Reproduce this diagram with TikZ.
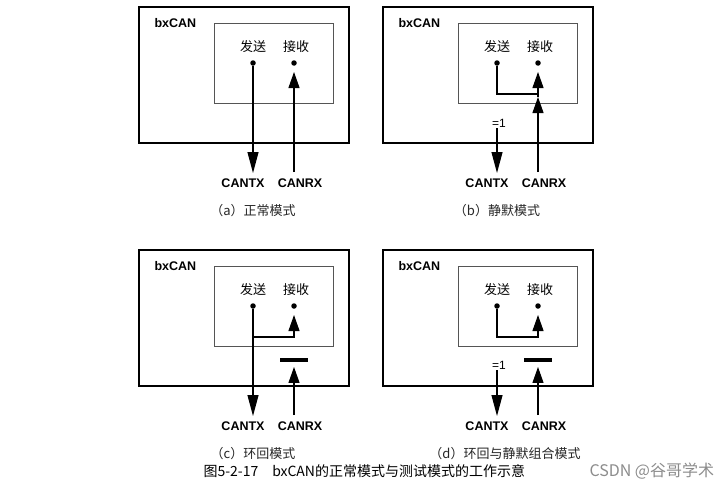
\documentclass[tikz,border=0pt]{standalone}
\usepackage{fontspec}
\setmainfont{Liberation Sans}
\newfontfamily\cjk{Noto Sans CJK SC}
\usetikzlibrary{arrows.meta}
\definecolor{boxgray}{RGB}{85,85,85}
\definecolor{markgray}{RGB}{140,140,140}

\begin{document}
\begin{tikzpicture}[
    x=1pt, y=-1pt,
    outer/.style={draw, line width=1.8pt},
    inner/.style={draw=boxgray, line width=0.9pt},
    dot/.style={circle, fill, inner sep=0pt, minimum size=5.5pt},
    sig/.style={line width=1.1pt},
    tx/.style={sig, -{Triangle[length=21pt, width=11pt]}},
    rx/.style={sig, -{Triangle[length=16pt, width=11pt]}},
    port/.style={font=\fontsize{12.5}{13}\selectfont\bfseries},
    eq/.style={font=\fontsize{12}{13}\selectfont, inner sep=1pt},
    cn/.style={font=\fontsize{13}{14}\cjk},
    subcap/.style={font=\fontsize{13}{14}\cjk, text=black!85},
    bar/.style={fill, inner sep=0pt, minimum width=28pt, minimum height=3.5pt}
]
\useasboundingbox (0,0) rectangle (727,498);

% Common frame of the four panels
\foreach \p/\sx/\sy/\cx/\mode in {a/139/7/114/正常模式, b/383/7/114/静默模式,
    c/139/250/114/环回模式, d/383/250/122/环回与静默组合模式} {
  \begin{scope}[shift={(\sx,\sy)}]
    \draw[outer] (0,0) rectangle (210,136);
    \draw[inner] (75,16) rectangle (194,96);
    \node[port, anchor=west] (\p name) at (12,16) {bxCAN};
    \node[cn] (\p sendtxt) at (114,40) {发送};
    \node[cn] (\p recvtxt) at (157,40) {接收};
    \node[dot] (\p send) at (114,56) {};
    \node[dot] (\p recv) at (155,56) {};
    \coordinate (\p txend) at (114,166);
    \coordinate (\p rxstart) at (155,165);
    \coordinate (\p rxtip) at (155,65);
    \node[port] (\p cantx) at (104,176) {CANTX};
    \node[port] (\p canrx) at (161,176) {CANRX};
    \node[subcap] (\p caption) at (\cx,204) {（\p）\mode};
  \end{scope}
}

% (a) normal mode
\draw[tx] (asend) -- (atxend);
\draw[rx] (arxstart) -- (arxtip);

% (b) silent mode
\begin{scope}[shift={(383,7)}]
  \coordinate (bloop) at (155,87);
  \coordinate (bmid) at (155,90);
  \node[eq] (bone) at (116,116) {=1};
  \draw[sig] (bsend) |- (bloop);
  \draw[tx] (bone.south -| btxend) -- (btxend);
  \draw[rx] (brxstart) -- (bmid);
  \draw[rx] (bmid) -- (brxtip);
\end{scope}

% (c) loop back mode
\begin{scope}[shift={(139,250)}]
  \coordinate (cloop) at (114,87);
  \node[bar] (cbar) at (155,110) {};
  \draw[tx] (csend) -- (ctxend);
  \draw[rx] (cloop) -| (crxtip);
  \draw[rx, shorten >=5pt] (crxstart) -- (cbar);
\end{scope}

% (d) loop back combined with silent mode
\begin{scope}[shift={(383,250)}]
  \coordinate (dloop) at (155,87);
  \node[eq] (done) at (116,115) {=1};
  \node[bar] (dbar) at (155,110) {};
  \draw[rx] (dsend) |- (dloop) -- (drxtip);
  \draw[tx] (done.south -| dtxend) -- (dtxend);
  \draw[rx, shorten >=5pt] (drxstart) -- (dbar);
\end{scope}

% Title and watermark
\node[anchor=west, font=\fontsize{14}{15}\cjk] (title) at (200,471)
  {图5-2-17\quad bxCAN的正常模式与测试模式的工作示意};
\node[anchor=west, font=\fontsize{16}{17}\cjk, text=markgray] (mark) at (586,471)
  {CSDN @谷哥学术};
\end{tikzpicture}
\end{document}
